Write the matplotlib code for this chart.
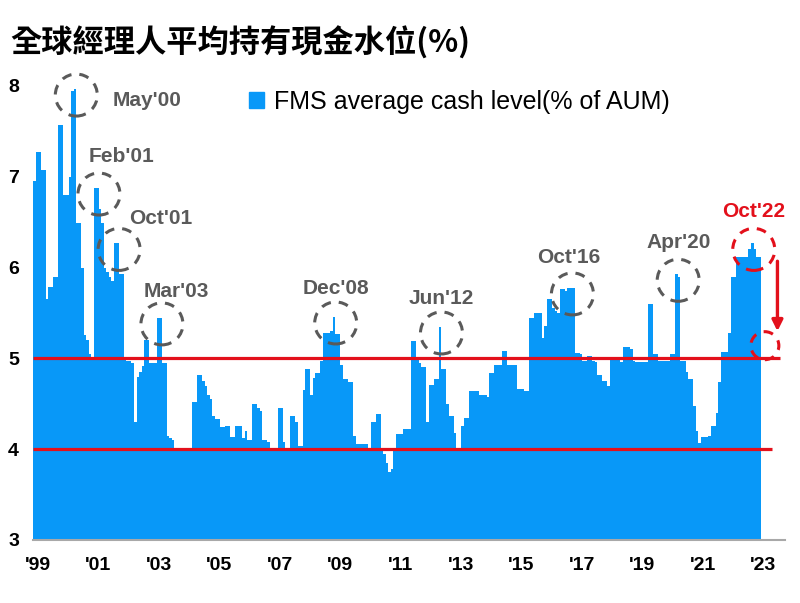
import matplotlib.pyplot as plt
from matplotlib.patches import Ellipse, Patch

# 每月現金水位 (1999/01 ~ 2023/01), 一列一年
cash_level = [
    [6.95, 7.27, 7.27, 7.08, 7.08, 5.65, 5.79, 5.79, 5.9, 5.9, 7.57, 7.57],       # 1999
    [6.8, 6.8, 7.0, 7.95, 7.97, 6.49, 6.49, 6.0, 5.26, 5.2, 5.05, 5.0],           # 2000
    [6.88, 6.88, 6.65, 6.49, 6.0, 5.95, 5.9, 5.85, 6.27, 6.27, 5.93, 5.93],       # 2001
    [5.0, 4.97, 4.97, 4.95, 4.3, 4.8, 4.85, 4.92, 5.2, 5.2, 4.95, 4.95],          # 2002
    [4.95, 5.45, 5.45, 4.95, 4.95, 4.14, 4.12, 4.1, 3.98, 3.98, 3.98, 3.98],      # 2003
    [3.98, 3.98, 3.98, 4.52, 4.52, 4.82, 4.82, 4.75, 4.7, 4.6, 4.55, 4.37],       # 2004
    [4.33, 4.33, 4.24, 4.24, 4.26, 4.26, 4.13, 4.13, 4.25, 4.25, 4.25, 4.12],     # 2005
    [4.2, 4.1, 4.1, 4.5, 4.5, 4.45, 4.42, 4.1, 4.1, 4.08, 4.0, 4.0],              # 2006
    [4.0, 4.45, 4.45, 4.08, 4.0, 4.0, 4.37, 4.37, 4.3, 4.04, 4.04, 4.65],         # 2007
    [4.88, 4.88, 4.6, 4.78, 4.84, 4.84, 4.97, 5.28, 5.28, 5.28, 5.3, 5.46],       # 2008
    [5.27, 5.27, 4.93, 4.77, 4.77, 4.74, 4.74, 4.14, 4.06, 4.06, 4.06, 4.06],     # 2009
    [4.06, 4.0, 4.3, 4.3, 4.39, 4.39, 4.0, 3.95, 3.85, 3.75, 3.78, 4.0],          # 2010
    [4.17, 4.17, 4.17, 4.22, 4.22, 4.22, 5.19, 5.19, 5.02, 4.95, 4.9, 4.9],       # 2011
    [4.3, 4.71, 4.71, 4.77, 4.77, 5.35, 4.88, 4.88, 4.5, 4.37, 4.37, 4.18],       # 2012
    [3.98, 3.98, 4.25, 4.34, 4.34, 4.64, 4.64, 4.64, 4.64, 4.6, 4.6, 4.6],        # 2013
    [4.57, 4.84, 4.84, 4.93, 4.93, 4.93, 5.08, 5.08, 4.93, 4.93, 4.93, 4.93],     # 2014
    [4.66, 4.66, 4.66, 4.64, 4.64, 5.45, 5.45, 5.5, 5.5, 5.5, 5.23, 5.36],        # 2015
    [5.65, 5.65, 5.55, 5.52, 5.5, 5.76, 5.76, 5.74, 5.78, 5.78, 5.78, 5.06],      # 2016
    [5.06, 5.05, 4.97, 4.97, 5.03, 5.03, 4.97, 4.96, 4.82, 4.82, 4.75, 4.75],     # 2017
    [4.7, 5.0, 5.0, 5.0, 5.0, 4.96, 5.13, 5.13, 5.13, 5.1, 4.97, 4.96],           # 2018
    [4.96, 4.96, 4.96, 4.96, 5.6, 5.6, 5.05, 5.05, 4.97, 4.97, 4.97, 4.97],       # 2019
    [4.97, 5.05, 5.05, 5.93, 5.9, 4.97, 4.97, 4.85, 4.77, 4.77, 4.48, 4.2],       # 2020
    [4.07, 4.13, 4.13, 4.13, 4.15, 4.25, 4.25, 4.4, 4.74, 5.07, 5.07, 5.07],      # 2021
    [5.28, 5.9, 5.9, 6.12, 6.12, 6.12, 6.12, 6.12, 6.2, 6.27, 6.2, 6.12],         # 2022
    [6.12],                                                                       # 2023
]
values = [v for row in cash_level for v in row]
months = list(range(len(values)))

tick_years = list(range(1999, 2024, 2))
tick_labels = ["'" + str(y)[2:] for y in tick_years]

# 標註的高點 (月份序號 = (年-1999)*12 + 月-1)
peaks = [("May'00", 16), ("Feb'01", 25), ("Oct'01", 33), ("Mar'03", 50),
         ("Dec'08", 119), ("Jun'12", 161), ("Oct'16", 213), ("Apr'20", 255),
         ("Oct'22", 285)]
label_offsets = [(51, -4), (16, 27), (30, 22), (10, 23), (0, 25), (0, 25),
                 (-3, 26), (0, 27), (0, 27)]

blue = '#0898F8'
red = '#E3101B'
grey = '#5A5A5A'

plt.rcParams['font.family'] = ['Liberation Sans', 'DejaVu Sans']

fig = plt.figure(figsize=(8, 6.03), dpi=100)
ax = fig.add_axes([0.04125, 0.1045, 0.94, 0.7529])

ax.bar(months, values, width=1.0, color=blue, linewidth=0,
       label='FMS average cash level(% of AUM)')

n = len(values)
ax.hlines([5, 4], -0.6, [n + 7, n + 4], colors=red, linewidth=2.3, zorder=3)

ax.set_xlim(-0.6, n + 9)
ax.set_ylim(3, 8)

ax.set_xticks([(y - 1999) * 12 + 1.3 for y in tick_years])
ax.set_xticklabels(tick_labels, fontsize=14, fontweight='bold')
ax.set_yticks([3, 4, 5, 6, 7, 8])
ax.set_yticklabels(['3', '4', '5', '6', '7', '8'], fontsize=14, fontweight='bold')
ax.tick_params(axis='both', length=0)
ax.tick_params(axis='x', pad=12)
ax.tick_params(axis='y', pad=10)

for s in ['top', 'right', 'left']:
    ax.spines[s].set_visible(False)
ax.spines['bottom'].set_color('#A8A8A8')
ax.spines['bottom'].set_linewidth(1.5)

# 圓圈尺寸要用像素換算
fig.canvas.draw()
bb = ax.get_window_extent()
sx = bb.width / (ax.get_xlim()[1] - ax.get_xlim()[0])
sy = bb.height / (ax.get_ylim()[1] - ax.get_ylim()[0])

def circle(cx, cy, r_px, color):
    e = Ellipse((cx, cy), 2 * r_px / sx, 2 * r_px / sy, fill=False,
                edgecolor=color, linewidth=2.2, linestyle=(0, (3.2, 2.6)),
                clip_on=False, zorder=5)
    ax.add_patch(e)

for (lab, i), off in zip(peaks, label_offsets):
    c = red if lab == "Oct'22" else grey
    cx, cy = i + 0.6, values[i] - 0.07
    circle(cx, cy, 21, c)
    ax.annotate(lab, xy=(cx, cy), xytext=off, textcoords='offset points',
                ha='center', va='center', fontsize=15, fontweight='bold',
                color=c, annotation_clip=False)

# Oct'22 之後回落的箭頭與圈
arrow_x = peaks[-1][1] + 10
ax.annotate('', xy=(arrow_x, 5.3), xytext=(arrow_x, 6.07),
            arrowprops=dict(arrowstyle='-|>', color=red, lw=2.4,
                            mutation_scale=16, shrinkA=0, shrinkB=0),
            annotation_clip=False)
circle(n + 1, 5.14, 14, red)

ax.legend(handles=[Patch(color=blue, label='FMS average cash level(% of AUM)')],
          loc='center left', bbox_to_anchor=(0.287, 0.965), frameon=False,
          fontsize=18, handlelength=0.6, handleheight=0.6,
          handletextpad=0.4, borderpad=0, borderaxespad=0)

fig.text(0.0125, 0.928, '全球經理人平均持有現金水位(%)', fontsize=22.5,
         fontweight='bold', family=['Noto Sans CJK TC', 'DejaVu Sans'],
         va='center', ha='left')

fig.savefig('out.png', dpi=100)
